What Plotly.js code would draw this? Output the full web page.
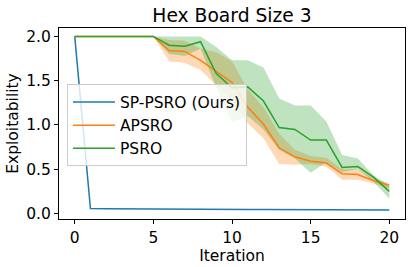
<!DOCTYPE html>
<html>
<head>
<meta charset="utf-8">
<script src="https://cdn.plot.ly/plotly-3.0.1.min.js"></script>
<style>html,body{margin:0;padding:0;background:#fff;}#chart{width:411px;height:267px;}</style>
</head>
<body>
<div id="chart"></div>
<script>
const iterations = [0,1,2,3,4,5,6,7,8,9,10,11,12,13,14,15,16,17,18,19,20];

const spPsro = [2.0,0.056,0.053,0.051,0.05,0.049,0.048,0.047,0.046,0.045,0.045,0.044,0.044,0.043,0.043,0.042,0.042,0.041,0.041,0.04,0.04];

const apsro = [2.0,2.0,2.0,2.0,2.0,2.0,1.84,1.83,1.73,1.6,1.48,1.2,1.01,0.74,0.64,0.59,0.57,0.45,0.44,0.37,0.32];
const apsroLow = [2.0,2.0,2.0,2.0,2.0,2.0,1.72,1.7,1.62,1.45,1.28,1.02,0.85,0.56,0.55,0.56,0.53,0.38,0.38,0.34,0.28];
const apsroHigh = [2.0,2.0,2.0,2.0,2.0,2.0,1.96,1.95,1.86,1.82,1.72,1.4,1.2,0.9,0.72,0.65,0.63,0.5,0.5,0.4,0.34];

const psro = [2.0,2.0,2.0,2.0,2.0,2.0,1.9,1.89,1.94,1.58,1.42,1.43,1.27,0.97,0.95,0.83,0.83,0.52,0.53,0.41,0.25];
const psroLow = [2.0,2.0,2.0,2.0,2.0,2.0,1.8,1.78,1.86,1.42,1.03,1.1,0.95,0.72,0.62,0.46,0.58,0.47,0.5,0.36,0.17];
const psroHigh = [2.0,2.0,2.0,2.0,2.0,2.0,2.0,2.0,2.0,1.88,1.73,1.73,1.65,1.3,1.22,1.22,1.04,0.66,0.62,0.43,0.32];

const xTicks = [0,5,10,15,20];
const yTicks = [0.0,0.5,1.0,1.5,2.0];

const C_BLUE = '#1f77b4', C_ORANGE = '#ff7f0e', C_GREEN = '#2ca02c';

function band(low, high, fillcolor) {
  return [
    {x: iterations, y: low, type: 'scatter', mode: 'lines', line: {width: 0}, showlegend: false, hoverinfo: 'skip'},
    {x: iterations, y: high, type: 'scatter', mode: 'lines', line: {width: 0}, fill: 'tonexty', fillcolor: fillcolor, showlegend: false, hoverinfo: 'skip'}
  ];
}

const data = [
  ...band(apsroLow, apsroHigh, 'rgba(255,127,14,0.3)'),
  ...band(psroLow, psroHigh, 'rgba(44,160,44,0.3)'),
  {x: iterations, y: spPsro, type: 'scatter', mode: 'lines', name: 'SP-PSRO (Ours)', line: {color: C_BLUE, width: 1.5}},
  {x: iterations, y: apsro, type: 'scatter', mode: 'lines', name: 'APSRO', line: {color: C_ORANGE, width: 1.5}},
  {x: iterations, y: psro, type: 'scatter', mode: 'lines', name: 'PSRO', line: {color: C_GREEN, width: 1.5}}
];

const FS = 15.5;
const tf = {family: 'DejaVu Sans', size: FS, color: '#000'};

const layout = {
  width: 411, height: 267,
  margin: {l: 59, r: 6, t: 28, b: 48},
  paper_bgcolor: '#fff', plot_bgcolor: '#fff',
  font: tf,
  title: {text: 'Hex Board Size 3', x: 0.5, xref: 'paper', xanchor: 'center', y: 1 - 15/267, yref: 'container', yanchor: 'middle', font: {family: 'DejaVu Sans', size: 18.7, color: '#000'}},
  xaxis: {
    range: [-1, 21], tickvals: xTicks, ticktext: xTicks.map(String),
    showgrid: false, zeroline: false, showline: true, mirror: true, linecolor: '#000', linewidth: 1,
    ticks: 'outside', ticklen: 4, tickcolor: '#000', tickfont: tf,
    title: {text: 'Iteration', font: tf, standoff: 1}
  },
  yaxis: {
    range: [-0.062, 2.095], tickvals: yTicks, ticktext: yTicks.map(v => v.toFixed(1)),
    showgrid: false, zeroline: false, showline: true, mirror: true, linecolor: '#000', linewidth: 1,
    ticks: 'outside', ticklen: 4, tickcolor: '#000', tickfont: tf,
    title: {text: 'Exploitability', font: tf, standoff: 3}
  },
  legend: {
    x: 0.023, y: 0.49, xanchor: 'left', yanchor: 'middle',
    traceorder: 'normal',
    bgcolor: 'rgba(255,255,255,0.8)', bordercolor: '#cccccc', borderwidth: 1,
    font: tf, itemwidth: 42,
    tracegroupgap: 0
  },
  showlegend: true
};

Plotly.newPlot('chart', data, layout, {displayModeBar: false, staticPlot: true});
</script>
</body>
</html>
